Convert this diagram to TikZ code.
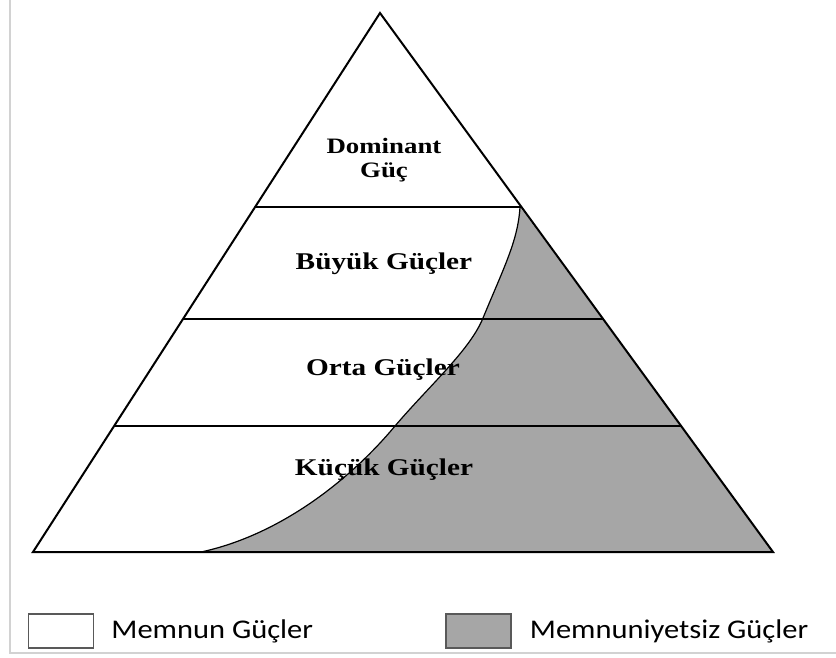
\documentclass[tikz,border=0pt]{standalone}
\usepackage{fontspec}
\newfontfamily\pyrfont[FakeStretch=1.22]{Liberation Serif}
\newfontfamily\keyfont[FakeStretch=1.13]{Carlito}
\usetikzlibrary{calc,positioning}

\definecolor{unhappy}{HTML}{A6A6A6}
\definecolor{framegray}{HTML}{D2D2D2}

\tikzset{
    layer/.style={font=\pyrfont\bfseries\fontsize{24}{26}\selectfont, inner sep=0pt, anchor=base},
    keybox/.style={draw=black!65, line width=1.5pt, minimum width=65pt, minimum height=34pt, inner sep=0pt},
    keytext/.style={font=\keyfont\fontsize{27}{30}\selectfont, inner sep=0pt}
}

\begin{document}
\begin{tikzpicture}[x=1pt,y=-1pt]
            \useasboundingbox (0,0) rectangle (836,657);

            % frame
            \draw[color=framegray, line width=1.5pt] (10,0) -- (10,653) -- (836,653);

            % pyramid corners
            \coordinate (apex) at (380,13);
            \coordinate (bl) at (33,552);
            \coordinate (br) at (773,552);
            \coordinate (foot) at (201,552);

            % layer borders
            \coordinate (l1) at ($(apex)!0.36!(bl)$);
            \coordinate (r1) at ($(apex)!0.36!(br)$);
            \coordinate (l2) at ($(apex)!0.568!(bl)$);
            \coordinate (r2) at ($(apex)!0.568!(br)$);
            \coordinate (l3) at ($(apex)!0.766!(bl)$);
            \coordinate (r3) at ($(apex)!0.766!(br)$);
            \coordinate (top) at (520,207);

            % dissatisfied part
            \fill[color=unhappy] (top) .. controls (518,240) and (505,265) .. (483,318)
                .. controls (470,350) and (430,385) .. (395,426)
                .. controls (350,480) and (280,535) .. (foot) -- (br) -- cycle;
            \draw[color=black, line width=1.2pt] (top) .. controls (518,240) and (505,265) .. (483,318)
                .. controls (470,350) and (430,385) .. (395,426)
                .. controls (350,480) and (280,535) .. (foot);

            \draw[color=black, line width=2pt] (l1) -- (r1);
            \draw[color=black, line width=2pt] (l2) -- (r2);
            \draw[color=black, line width=2pt] (l3) -- (r3);
            \draw[color=black, line width=2pt, line join=miter] (apex) -- (bl) -- (br) -- cycle;

            % labels
            \node[layer, font=\pyrfont\bfseries\fontsize{22}{24}\selectfont, align=center] (dominant) at (384,177) {Dominant\\Güç};
            \node[layer] (great) at (384,269) {Büyük Güçler};
            \node[layer] (middle) at (383,375) {Orta Güçler};
            \node[layer] (small) at (384,475) {Küçük Güçler};

            % legend
            \node[keybox, fill=white] (happy) at (61,631) {};
            \node[keytext, right=17pt of happy] (happytext) {Memnun Güçler};
            \node[keybox, fill=unhappy] (sad) at (478.5,631) {};
            \node[keytext, right=18pt of sad] (sadtext) {Memnuniyetsiz Güçler};
        \end{tikzpicture}
\end{document}
